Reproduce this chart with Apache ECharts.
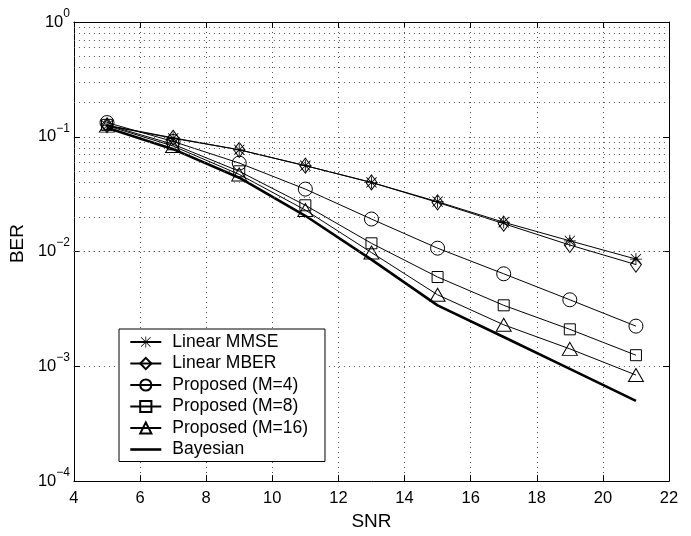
<!DOCTYPE html>
<html>
<head>
<meta charset="utf-8">
<script src="https://cdn.jsdelivr.net/npm/echarts@6/dist/echarts.min.js"></script>
<style>
  html, body { margin: 0; padding: 0; background: #fff; }
  #chart-container { width: 691px; height: 536px; }
</style>
</head>
<body>
<div id="chart-container"></div>
<script>
var snr = [5, 7, 9, 11, 13, 15, 17, 19, 21];
var linearMmse = [0.125, 0.097, 0.077, 0.056, 0.040, 0.0272, 0.0180, 0.0124, 0.0086];
var linearMber = [0.126, 0.098, 0.077, 0.056, 0.040, 0.0268, 0.0175, 0.0114, 0.0077];
var propM4 = [0.133, 0.091, 0.059, 0.035, 0.0192, 0.0107, 0.0064, 0.0038, 0.00224];
var propM8 = [0.127, 0.086, 0.050, 0.0253, 0.0118, 0.0060, 0.0034, 0.0021, 0.00125];
var propM16 = [0.125, 0.083, 0.047, 0.023, 0.0098, 0.0042, 0.0023, 0.00142, 0.00084];
var bayesian = [0.120, 0.078, 0.044, 0.0205, 0.0085, 0.0034, 0.0018, 0.00095, 0.00050];

var seriesNames = ["Linear MMSE", "Linear MBER", "Proposed (M=4)", "Proposed (M=8)", "Proposed (M=16)", "Bayesian"];
var decades = [-4, -3, -2, -1];
var minorSteps = [2, 3, 4, 5, 6, 7, 8, 9];

var font = "'Liberation Sans', Arial, Helvetica, sans-serif";
var asterisk = "path://M9.3 0 L10.7 0 L10.7 20 L9.3 20 Z M0 9.3 L20 9.3 L20 10.7 L0 10.7 Z " +
  "M1 2 L2 1 L19 18 L18 19 Z M18 1 L19 2 L2 19 L1 18 Z";
var dotted = { color: "#555", width: 1, type: [1, 4] };

function pairs(ys) {
  return snr.map(function (x, i) { return [x, ys[i]]; });
}

// dotted minor grid at 2..9 x 10^k
var minorLines = [];
decades.forEach(function (d) {
  minorSteps.forEach(function (m) {
    minorLines.push({ yAxis: m * Math.pow(10, d) });
  });
});

var hollow = { color: "rgba(0,0,0,0)", borderColor: "#000", borderWidth: 1 };

function lineSeries(name, ys, symbol, size, item) {
  return {
    name: name,
    type: "line",
    data: pairs(ys),
    symbol: symbol,
    symbolSize: size,
    showAllSymbol: true,
    lineStyle: { color: "#000", width: 1 },
    itemStyle: item,
    emphasis: { disabled: true },
    z: 3
  };
}

var dom = document.getElementById("chart-container");
var myChart = echarts.init(dom, null, { renderer: "canvas" });

var legendData = seriesNames.map(function (n) {
  return n === "Bayesian"
    ? { name: n, itemStyle: { opacity: 0 }, lineStyle: { width: 2.6, color: "#000" } }
    : n;
});

var option = {
  animation: false,
  backgroundColor: "#fff",
  textStyle: { fontFamily: font, color: "#000" },
  grid: { left: 70, right: 22, top: 22, bottom: 43 },
  legend: {
    data: legendData,
    orient: "vertical",
    left: 119,
    top: 329,
    itemWidth: 31,
    itemHeight: 14,
    itemGap: 3.5,
    padding: [4, 17, 3, 10],
    backgroundColor: "#fff",
    borderColor: "#000",
    borderWidth: 1,
    textStyle: { fontFamily: font, fontSize: 17.5, lineHeight: 18, color: "#000", padding: [0, 0, 0, 6] }
  },
  xAxis: [
    {
      type: "value",
      min: 4,
      max: 22,
      interval: 2,
      name: "SNR",
      nameLocation: "middle",
      nameGap: 25,
      nameTextStyle: { fontSize: 19, fontFamily: font, color: "#000" },
      axisLine: { lineStyle: { color: "#000", width: 1 } },
      axisTick: { inside: true, length: 6, lineStyle: { color: "#000" } },
      axisLabel: { fontSize: 16.5, fontFamily: font, color: "#000", margin: 9 },
      splitLine: { show: true, lineStyle: dotted }
    },
    {
      type: "value",
      position: "top",
      min: 4,
      max: 22,
      interval: 2,
      axisLine: { lineStyle: { color: "#000", width: 1 } },
      axisTick: { inside: true, length: 6, lineStyle: { color: "#000" } },
      axisLabel: { show: false },
      splitLine: { show: false }
    }
  ],
  yAxis: [
    {
      type: "log",
      logBase: 10,
      min: 1e-4,
      max: 1,
      name: "BER",
      nameLocation: "middle",
      nameGap: 40,
      nameTextStyle: { fontSize: 19, fontFamily: font, color: "#000", padding: [0, 0, 0, 16] },
      axisLine: { lineStyle: { color: "#000", width: 1 } },
      axisTick: { inside: true, length: 6, lineStyle: { color: "#000" } },
      axisLabel: {
        margin: 4,
        formatter: function (v) {
          var e = Math.round(Math.log10(v));
          return "{b|10}{s|" + (e < 0 ? "\u2212" + (-e) : e) + "}";
        },
        rich: {
          b: { fontSize: 16.5, fontFamily: font, color: "#000" },
          s: { fontSize: 12, fontFamily: font, color: "#000", verticalAlign: "bottom", padding: [0, 0, 17, 0] }
        }
      },
      splitLine: { show: true, lineStyle: dotted }
    },
    {
      type: "log",
      logBase: 10,
      min: 1e-4,
      max: 1,
      position: "right",
      axisLine: { lineStyle: { color: "#000", width: 1 } },
      axisTick: { inside: true, length: 6, lineStyle: { color: "#000" } },
      axisLabel: { show: false },
      splitLine: { show: false }
    }
  ],
  series: [
    {
      name: "minor-grid",
      type: "line",
      data: [],
      silent: true,
      z: 1,
      markLine: {
        silent: true,
        symbol: "none",
        label: { show: false },
        animation: false,
        lineStyle: dotted,
        data: minorLines
      }
    },
    lineSeries("Linear MMSE", linearMmse, asterisk, 12, { color: "#000", borderWidth: 0 }),
    lineSeries("Linear MBER", linearMber, "diamond", [11, 15], hollow),
    lineSeries("Proposed (M=4)", propM4, "circle", 14, hollow),
    lineSeries("Proposed (M=8)", propM8, "rect", 11, hollow),
    lineSeries("Proposed (M=16)", propM16, "triangle", [15, 13], hollow),
    {
      name: "Bayesian",
      type: "line",
      data: pairs(bayesian),
      symbol: "none",
      lineStyle: { color: "#000", width: 2.6 },
      itemStyle: { color: "#000" },
      emphasis: { disabled: true },
      z: 3
    }
  ]
};

myChart.setOption(option);
window.addEventListener("resize", myChart.resize);
</script>
</body>
</html>
